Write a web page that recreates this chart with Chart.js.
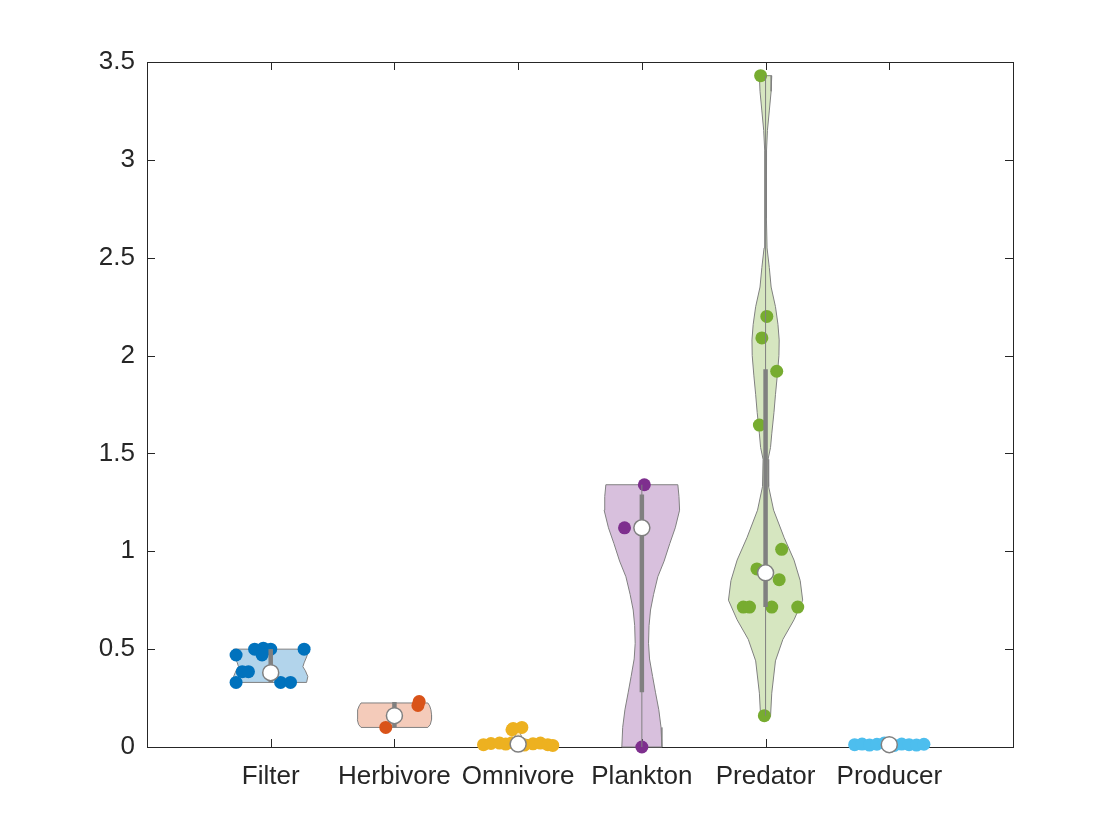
<!DOCTYPE html>
<html>
<head>
<meta charset="utf-8">
<script src="https://cdn.jsdelivr.net/npm/chart.js@4"></script>
<style>
  html, body { margin: 0; padding: 0; background: #fff; }
  #wrap { width: 1120px; height: 840px; }
</style>
</head>
<body>
<div id="wrap"><canvas id="chart" width="1120" height="840"></canvas></div>
<script>
// categories and colours (MATLAB default order)
const categories = ["Filter", "Herbivore", "Omnivore", "Plankton", "Predator", "Producer"];
const groupColors = ["#0072BD", "#D95319", "#EDB120", "#7E2F8E", "#77AC30", "#4DBEEE"];
const yTicks = [0, 0.5, 1, 1.5, 2, 2.5, 3, 3.5];

// raw points: value and horizontal jitter
const filterValues = [0.47, 0.50, 0.505, 0.50, 0.47, 0.50, 0.385, 0.385, 0.33, 0.33, 0.33];
const filterJitter = [-0.28, -0.13, -0.06, 0.00, -0.07, 0.27, -0.23, -0.18, -0.28, 0.08, 0.16];
const herbivoreValues = [0.10, 0.212, 0.232];
const herbivoreJitter = [-0.07, 0.19, 0.20];
const omnivoreValues = [0.012, 0.018, 0.02, 0.015, 0.022, 0.01, 0.016, 0.02, 0.012, 0.008, 0.095, 0.10, 0.088];
const omnivoreJitter = [-0.28, -0.22, -0.15, -0.10, -0.05, 0.05, 0.12, 0.18, 0.24, 0.28, -0.04, 0.03, -0.05];
const planktonValues = [1.34, 1.12, 0.0];
const planktonJitter = [0.02, -0.14, 0.0];
const predatorValues = [3.43, 2.20, 2.09, 1.92, 1.645, 1.01, 0.91, 0.855, 0.715, 0.715, 0.715, 0.715, 0.16];
const predatorJitter = [-0.04, 0.01, -0.03, 0.09, -0.05, 0.13, -0.07, 0.11, -0.18, -0.13, 0.05, 0.26, -0.01];
const producerValues = [0.012, 0.015, 0.01, 0.014, 0.02, 0.008, 0.015, 0.012, 0.01, 0.014];
const producerJitter = [-0.28, -0.22, -0.16, -0.10, -0.04, 0.04, 0.10, 0.16, 0.22, 0.28];

// violin outlines: value levels and half widths (x units)
const filterLevels = [0.33, 0.36, 0.39, 0.41, 0.43, 0.46, 0.48, 0.50];
const filterWidths = [0.29, 0.30, 0.28, 0.26, 0.27, 0.29, 0.30, 0.30];
const herbivoreLevels = [0.10, 0.115, 0.14, 0.165, 0.19, 0.21, 0.225];
const herbivoreWidths = [0.27, 0.29, 0.30, 0.30, 0.295, 0.285, 0.27];
const omnivoreLevels = [0.003, 0.008, 0.013, 0.02, 0.03, 0.04, 0.05, 0.065, 0.08, 0.09, 0.10];
const omnivoreWidths = [0.22, 0.29, 0.31, 0.25, 0.13, 0.06, 0.03, 0.02, 0.03, 0.045, 0.05];
const planktonLevels = [0.0, 0.10, 0.19, 0.28, 0.36, 0.45, 0.53, 0.62, 0.70, 0.78, 0.87, 0.95, 1.04, 1.12, 1.21, 1.28, 1.34];
const planktonWidths = [0.162, 0.155, 0.137, 0.11, 0.087, 0.062, 0.054, 0.058, 0.070, 0.095, 0.129, 0.18, 0.226, 0.27, 0.305, 0.30, 0.291];
const predatorLevels = [0.155, 0.275, 0.44, 0.55, 0.65, 0.75, 0.85, 0.955, 1.07, 1.21, 1.33, 1.47, 1.53, 1.60, 1.71, 1.80, 1.90, 2.0, 2.08, 2.16, 2.25, 2.35, 2.45, 2.55, 2.7, 2.9, 3.05, 3.15, 3.25, 3.35, 3.43];
const predatorWidths = [0.04, 0.05, 0.08, 0.14, 0.23, 0.30, 0.28, 0.23, 0.15, 0.065, 0.025, 0.02, 0.04, 0.05, 0.068, 0.08, 0.095, 0.108, 0.11, 0.10, 0.08, 0.045, 0.03, 0.012, 0.008, 0.006, 0.008, 0.015, 0.03, 0.045, 0.05];
const producerLevels = [0.002, 0.008, 0.015, 0.022, 0.026];
const producerWidths = [0.25, 0.30, 0.28, 0.15, 0.05];

// box summary per group
const medians = [0.38, 0.16, 0.015, 1.12, 0.89, 0.012];
const quartileLow = [0.33, 0.10, 0.01, 0.28, 0.715, 0.008];
const quartileHigh = [0.50, 0.23, 0.02, 1.29, 1.93, 0.015];
const whiskerLow = [0.33, 0.10, 0.003, 0.0, 0.16, 0.002];
const whiskerHigh = [0.50, 0.23, 0.04, 1.34, 3.43, 0.026];

const groupValues = [filterValues, herbivoreValues, omnivoreValues, planktonValues, predatorValues, producerValues];
const groupJitter = [filterJitter, herbivoreJitter, omnivoreJitter, planktonJitter, predatorJitter, producerJitter];
const groupLevels = [filterLevels, herbivoreLevels, omnivoreLevels, planktonLevels, predatorLevels, producerLevels];
const groupWidths = [filterWidths, herbivoreWidths, omnivoreWidths, planktonWidths, predatorWidths, producerWidths];

const GRAY = "#808080";
const AXIS = "#262626";

function fade(hex, a) {
    const n = parseInt(hex.slice(1), 16);
    const r = n >> 16, g = (n >> 8) & 255, b = n & 255;
    return `rgba(${r}, ${g}, ${b}, ${a})`;
}

function violinOutline(center, levels, widths) {
    const left = levels.map((y, i) => ({ x: center - widths[i], y }));
    const right = levels.map((y, i) => ({ x: center + widths[i], y })).reverse();
    return [...left, ...right, left[0]];
}

const datasets = [];
categories.forEach((name, i) => {
    const c = i + 1;
    datasets.push({
        label: name + " violin",
        data: violinOutline(c, groupLevels[i], groupWidths[i]),
        showLine: true,
        borderColor: GRAY,
        borderWidth: 1,
        backgroundColor: fade(groupColors[i], 0.3),
        fill: "shape",
        pointRadius: 0,
        tension: 0,
        clip: false,
        order: 40
    });
    datasets.push({
        label: name,
        data: groupValues[i].map((v, k) => ({ x: c + groupJitter[i][k], y: v })),
        pointRadius: 6.5,
        pointBorderWidth: 0,
        backgroundColor: groupColors[i],
        clip: false,
        order: 30
    });
    datasets.push({
        label: name + " whisker",
        data: [{ x: c, y: whiskerLow[i] }, { x: c, y: whiskerHigh[i] }],
        showLine: true,
        borderColor: GRAY,
        borderWidth: 1,
        pointRadius: 0,
        clip: false,
        order: 20
    });
    datasets.push({
        label: name + " box",
        data: [{ x: c, y: quartileLow[i] }, { x: c, y: quartileHigh[i] }],
        showLine: true,
        borderColor: GRAY,
        borderWidth: 4.5,
        borderCapStyle: "butt",
        pointRadius: 0,
        clip: false,
        order: 10
    });
});
datasets.push({
    label: "median",
    data: medians.map((m, i) => ({ x: i + 1, y: m })),
    pointRadius: 8,
    pointBorderWidth: 1.5,
    pointBorderColor: GRAY,
    backgroundColor: "#ffffff",
    clip: false,
    order: 0
});

/* Axes box with inward ticks on all four sides */
const axesBox = {
    id: "axesBox",
    beforeDatasetsDraw(chart) {
        const { ctx, chartArea: a, scales } = chart;
        const len = 8;
        ctx.save();
        ctx.strokeStyle = AXIS;
        ctx.lineWidth = 1;
        ctx.strokeRect(a.left + 0.5, a.top + 0.5, a.right - a.left, a.bottom - a.top);
        ctx.beginPath();
        categories.forEach((_, i) => {
            const px = Math.round(scales.x.getPixelForValue(i + 1)) + 0.5;
            ctx.moveTo(px, a.bottom); ctx.lineTo(px, a.bottom - len);
            ctx.moveTo(px, a.top); ctx.lineTo(px, a.top + len);
        });
        yTicks.forEach(v => {
            const py = Math.round(scales.y.getPixelForValue(v)) + 0.5;
            ctx.moveTo(a.left, py); ctx.lineTo(a.left + len, py);
            ctx.moveTo(a.right, py); ctx.lineTo(a.right - len, py);
        });
        ctx.stroke();
        ctx.restore();
    }
};

const font = { family: "'Liberation Sans', Arial, Helvetica, sans-serif", size: 26 };

new Chart(document.getElementById("chart").getContext("2d"), {
    type: "scatter",
    data: { datasets },
    plugins: [axesBox],
    options: {
        responsive: false,
        animation: false,
        devicePixelRatio: 1,
        layout: { padding: { left: 0, top: 62, right: 107, bottom: 0 } },
        plugins: { legend: { display: false }, tooltip: { enabled: false } },
        scales: {
            x: {
                type: "linear",
                min: 0,
                max: 7,
                grid: { display: false, drawTicks: false },
                border: { display: false },
                afterBuildTicks: s => { s.ticks = categories.map((_, i) => ({ value: i + 1 })); },
                afterFit: s => { s.height = 93; },
                ticks: {
                    autoSkip: false,
                    maxRotation: 0,
                    padding: 14,
                    color: AXIS,
                    font,
                    callback: v => categories[v - 1]
                }
            },
            y: {
                type: "linear",
                min: 0,
                max: 3.5,
                grid: { display: false, drawTicks: false },
                border: { display: false },
                afterBuildTicks: s => { s.ticks = yTicks.map(v => ({ value: v })); },
                afterFit: s => { s.width = 147; },
                ticks: {
                    padding: 12,
                    color: AXIS,
                    font,
                    callback: v => String(v)
                }
            }
        }
    }
});
</script>
</body>
</html>
